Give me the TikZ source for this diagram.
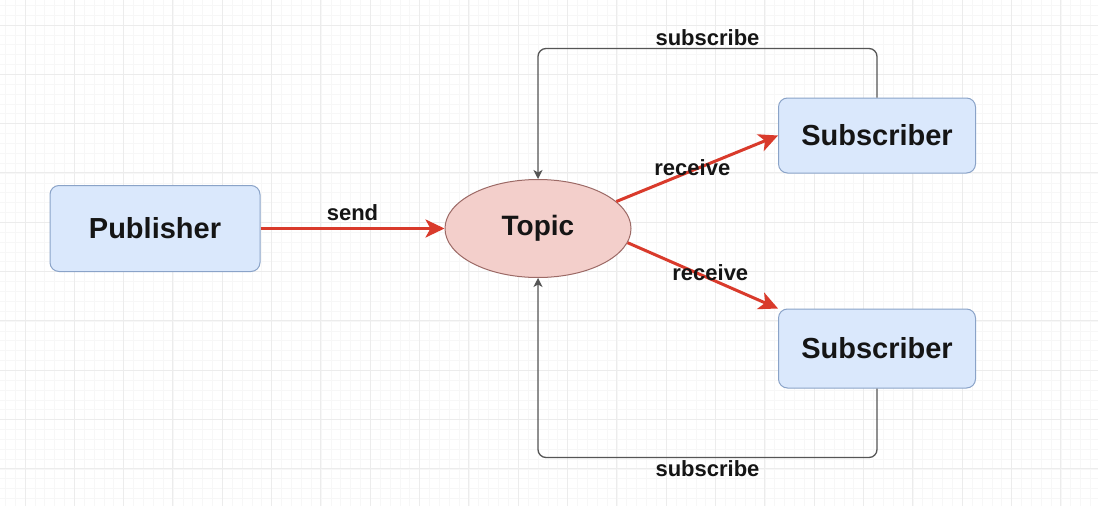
\documentclass[tikz,border=0pt]{standalone}
\usepackage{fontspec}
\setmainfont{Liberation Sans}
\usetikzlibrary{arrows.meta,shapes.geometric}
\definecolor{boxfill}{HTML}{DAE8FC}
\definecolor{boxline}{HTML}{8AA3C8}
\definecolor{topicfill}{HTML}{F3CFCB}
\definecolor{topicline}{HTML}{9C6A66}
\definecolor{redline}{HTML}{D93A2B}
\definecolor{grayline}{HTML}{555555}
\definecolor{gridminor}{HTML}{F7F7F7}
\definecolor{gridmajor}{HTML}{ECECEC}
\definecolor{txt}{HTML}{151515}
\tikzset{
  box/.style={rectangle, rounded corners=9pt, draw=boxline, fill=boxfill, line width=1pt,
    font=\fontsize{29}{32}\selectfont\bfseries, text=txt},
  topicnode/.style={ellipse, draw=topicline, fill=topicfill, line width=1pt, inner sep=0pt,
    minimum width=186pt, minimum height=98pt, font=\fontsize{28}{32}\selectfont\bfseries, text=txt},
  redarrow/.style={draw=redline, line width=3pt, -{Stealth[length=19pt,width=18pt,inset=5pt]}},
  subarrow/.style={draw=grayline, line width=1.3pt, rounded corners=8pt, -{Stealth[length=9pt,width=9pt,inset=2.5pt]}},
  lbl/.style={font=\fontsize{22}{26}\selectfont\bfseries, text=txt, inner sep=2pt},
}
\begin{document}
\begin{tikzpicture}[x=1pt,y=-1pt]
\useasboundingbox (0,0) rectangle (1098,506);
\fill[white] (0,0) rectangle (1098,506);
% grid
\foreach \k in {0,...,111} {
  \pgfmathsetmacro\xx{5.27+\k*9.866}
  \draw[gridminor, line width=0.7pt] (\xx,0) -- (\xx,506);
}
\foreach \k in {0,...,51} {
  \pgfmathsetmacro\yy{5.27+\k*9.866}
  \draw[gridminor, line width=0.7pt] (0,\yy) -- (1098,\yy);
}
\foreach \k in {0,...,22} {
  \pgfmathsetmacro\xx{25+\k*49.33}
  \draw[gridmajor, line width=1pt] (\xx,0) -- (\xx,506);
}
\foreach \k in {0,...,9} {
  \pgfmathsetmacro\yy{25+\k*49.33}
  \draw[gridmajor, line width=1pt] (0,\yy) -- (1098,\yy);
}
% nodes
\node[box, minimum width=210pt, minimum height=86pt] (pub) at (155,228.5) {Publisher};
\node[topicnode] (topic) at (538,228.5) {Topic};
\node[box, minimum width=197pt, minimum height=75pt] (sub1) at (877,135.5) {Subscriber};
\node[box, minimum width=197pt, minimum height=79pt] (sub2) at (877,348.5) {Subscriber};
% connectors
\draw[redarrow] (pub.east) -- node[lbl, above=4pt] {send} (topic.west);
\draw[redarrow] (topic.19) -- node[lbl, pos=0.47, yshift=3pt] {receive} (sub1.west);
\draw[redarrow] (topic.-9) -- node[lbl, pos=0.55, yshift=6pt] {receive} (sub2.north west);
\draw[subarrow] (sub1.north) -- ++(0,-49) -| node[lbl, pos=0.25, above] {subscribe} (topic.north);
\draw[subarrow] (sub2.south) -- ++(0,69) -| node[lbl, pos=0.25, below] {subscribe} (topic.south);
\end{tikzpicture}
\end{document}
